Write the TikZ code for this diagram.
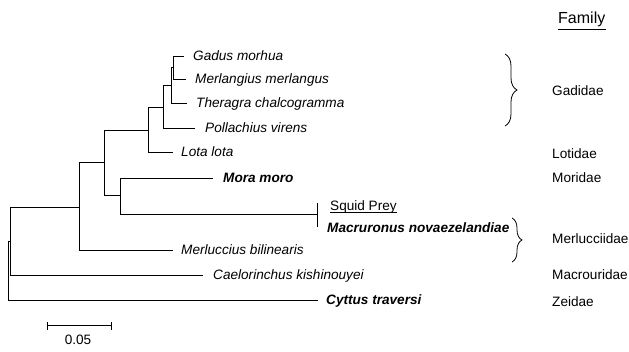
\documentclass[tikz,border=0pt]{standalone}
\usepackage{fontspec}
\setmainfont{Liberation Sans}
\usetikzlibrary{positioning,decorations.pathreplacing}
\tikzset{
	branch/.style={line width=1pt},
	taxon/.style={inner sep=0pt, anchor=west, text height=0.72em, text depth=0pt, font=\fontsize{13.6}{16}\selectfont\itshape},
	boldtaxon/.style={taxon, font=\fontsize{13.6}{16}\selectfont\bfseries\itshape},
	family/.style={inner sep=0pt, anchor=west, text height=0.72em, text depth=0pt, font=\fontsize{13.6}{16}\selectfont},
	clade/.style={decorate, decoration={brace, amplitude=#1}, line width=0.8pt},
}
\begin{document}
\begin{tikzpicture}[x=1pt, y=-1pt]
			\useasboundingbox (0,0) rectangle (629,352);
			\coordinate (root) at (8,242);
			\coordinate (nC) at (10,242);
			\coordinate (nMer) at (79,208);
			\coordinate (nLM) at (104,163);
			\coordinate (nL) at (148,131);
			\coordinate (nP) at (163,108);
			\coordinate (nGMT) at (171,86);
			\coordinate (nGM) at (173,68);
			\coordinate (nMS) at (120,196);
			\coordinate (tGadus) at (184,57);
			\coordinate (tMerl) at (186,80);
			\coordinate (tTher) at (187,104);
			\coordinate (tPoll) at (195,129);
			\coordinate (tLota) at (173,153);
			\coordinate (tMora) at (213,179);
			\coordinate (tSquid) at (317,215);
			\coordinate (tMerluc) at (173,251);
			\coordinate (tCael) at (203,276);
			\coordinate (tCytt) at (318,301);
			\draw[branch] (root) |- (nC) (root) |- (tCytt);
			\draw[branch] (nC) |- (nMer) (nC) |- (tCael);
			\draw[branch] (nMer) |- (nLM) (nMer) |- (tMerluc);
			\draw[branch] (nLM) |- (nL) (nLM) |- (nMS);
			\draw[branch] (nL) |- (nP) (nL) |- (tLota);
			\draw[branch] (nP) |- (nGMT) (nP) |- (tPoll);
			\draw[branch] (nGMT) |- (nGM) (nGMT) |- (tTher);
			\draw[branch] (nGM) |- (tGadus) (nGM) |- (tMerl);
			\draw[branch] (nMS) |- (tMora) (nMS) |- (tSquid);
			\draw[branch] ([yshift=12pt]tSquid) -- ([yshift=-12pt]tSquid);
			\node[taxon, right=9pt of tGadus] (gadus) {Gadus morhua};
			\node[taxon, right=9pt of tMerl] (merl) {Merlangius merlangus};
			\node[taxon, right=9pt of tTher] (ther) {Theragra chalcogramma};
			\node[taxon, right=10pt of tPoll] (poll) {Pollachius virens};
			\node[taxon, right=8pt of tLota] (lota) {Lota lota};
			\node[boldtaxon, right=10pt of tMora] (mora) {Mora moro};
			\node[family] (squid) at (330,207) {Squid Prey};
			\draw[line width=0.8pt] ([yshift=-2pt]squid.south west) -- ([yshift=-2pt]squid.south east);
			\node[boldtaxon] (macru) at (327,229) {Macruronus novaezelandiae};
			\node[taxon, right=8pt of tMerluc] (merluc) {Merluccius bilinearis};
			\node[taxon, right=10pt of tCael] (cael) {Caelorinchus kishinouyei};
			\node[boldtaxon, right=8pt of tCytt] (cytt) {Cyttus traversi};
			\node[family, font=\fontsize{16}{19}\selectfont] (famhead) at (558,20) {Family};
			\draw[line width=0.9pt] ([yshift=-6pt]famhead.south west) -- ([yshift=-6pt]famhead.south east);
			\coordinate (gTop) at (505,54);
			\coordinate (gBot) at (505,126);
			\draw[clade=12pt] (gTop) -- (gBot);
			\coordinate (mTop) at (512,218);
			\coordinate (mBot) at (512,262);
			\draw[clade=10pt] (mTop) -- (mBot);
			\node[family] (gadidae) at (552,92) {Gadidae};
			\node[family] (lotidae) at (552,155) {Lotidae};
			\node[family] (moridae) at (552,179) {Moridae};
			\node[family] (merlucc) at (552,240) {Merlucciidae};
			\node[family] (macrour) at (552,276) {Macrouridae};
			\node[family] (zeidae) at (552,303) {Zeidae};
			\coordinate (sbL) at (47,326);
			\coordinate (sbR) at (111,326);
			\draw[branch] (sbL) -- (sbR);
			\draw[branch] ([yshift=4pt]sbL) -- ([yshift=-4pt]sbL);
			\draw[branch] ([yshift=4pt]sbR) -- ([yshift=-4pt]sbR);
			\node[family, anchor=center] (scale) at (78,341) {0.05};
		\end{tikzpicture}
\end{document}
